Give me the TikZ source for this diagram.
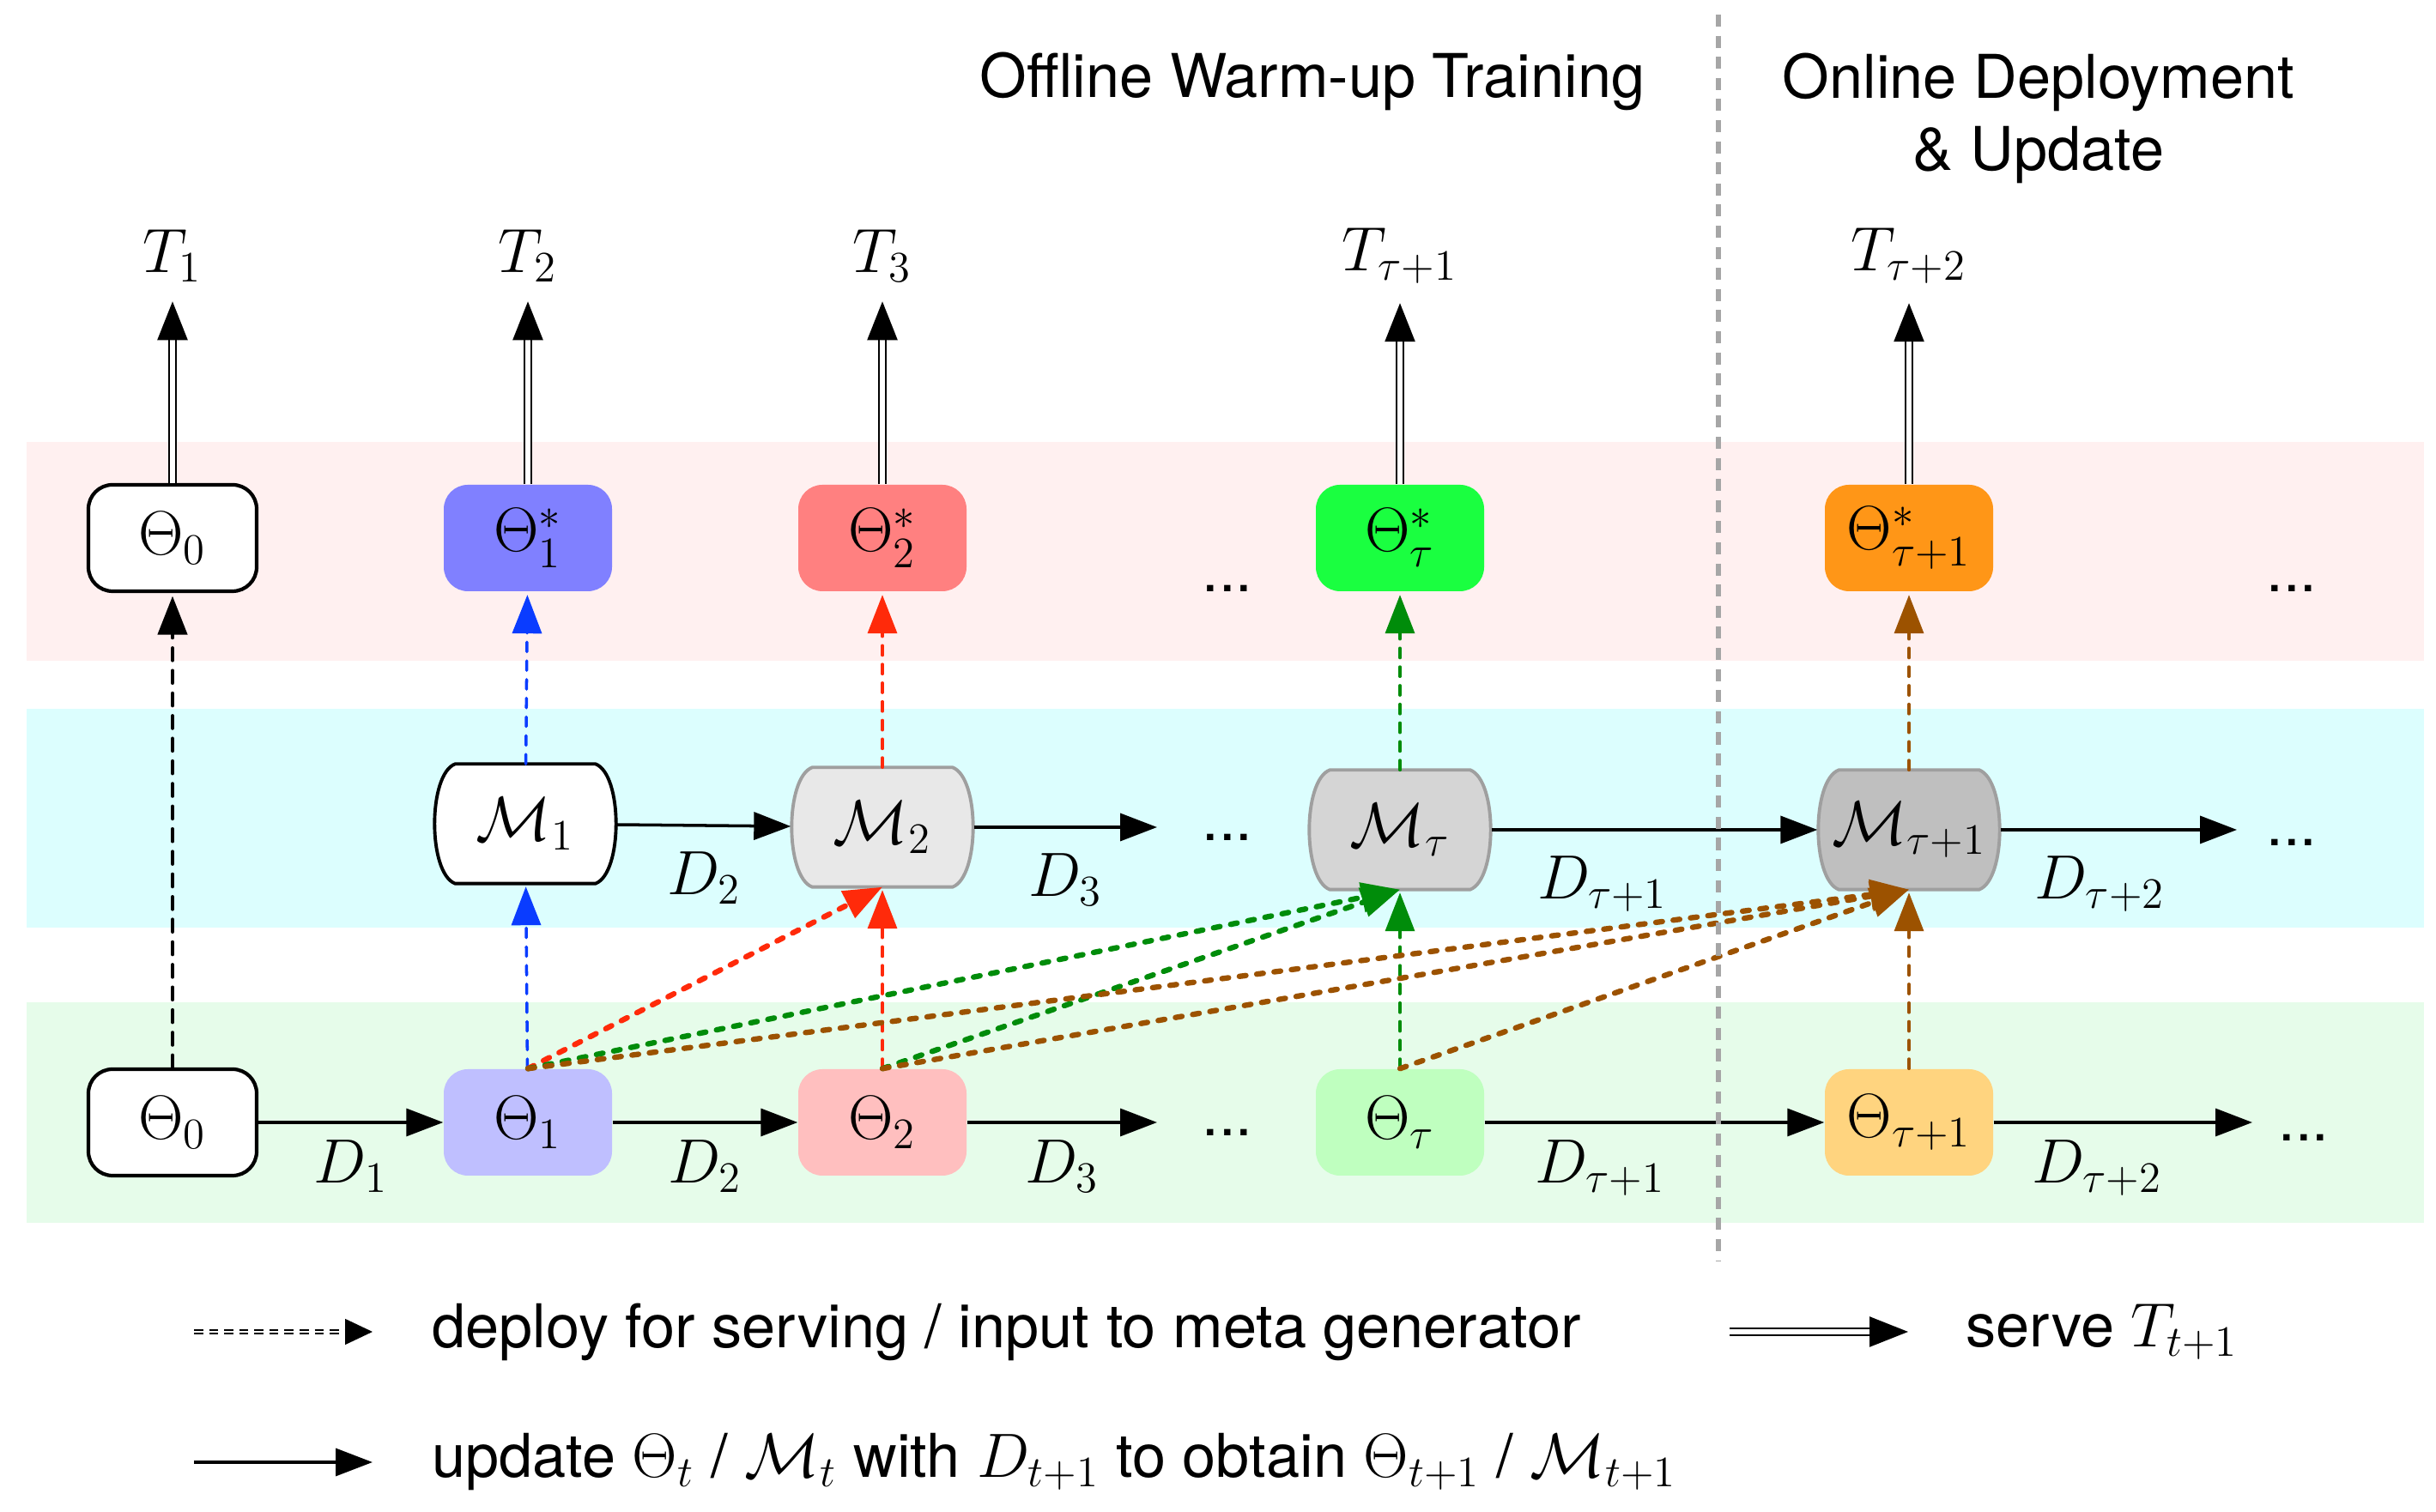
\documentclass[tikz,border=0pt]{standalone}
\usepackage[no-math]{fontspec}
\setmainfont{TeX Gyre Heros}
\usepackage{amsmath,amssymb}
\usetikzlibrary{arrows.meta,positioning,calc}
\pgfdeclarelayer{bands}
\pgfdeclarelayer{outline}
\pgfsetlayers{bands,outline,main}
\definecolor{bandpink}{HTML}{FFF0F0}
\definecolor{bandcyan}{HTML}{DCFEFE}
\definecolor{bandgreen}{HTML}{E6FCEA}
\definecolor{blueS}{HTML}{8080FF}
\definecolor{blueL}{HTML}{BFBFFF}
\definecolor{redS}{HTML}{FF8080}
\definecolor{redL}{HTML}{FFBFBF}
\definecolor{greenS}{HTML}{1AFF40}
\definecolor{greenL}{HTML}{BFFFBF}
\definecolor{orangeS}{HTML}{FF9617}
\definecolor{orangeL}{HTML}{FFD47F}
\definecolor{lineblue}{HTML}{0A3CFF}
\definecolor{linered}{HTML}{FF2A0A}
\definecolor{linegreen}{HTML}{008C0A}
\definecolor{linebrown}{HTML}{9C5200}
\definecolor{divgray}{HTML}{A6A6A6}
\tikzset{
  param/.style={rounded corners=8pt,minimum width=1.96cm,minimum height=1.24cm,inner sep=0pt,
                font=\fontsize{22.5}{27}\selectfont},
  meta/.style={minimum width=2.12cm,minimum height=1.38cm,inner sep=0pt,
               font=\fontsize{22.5}{27}\selectfont},
  upd/.style={-{Triangle[length=4.3mm,width=3.2mm]},line width=1pt},
  serve/.style={double=white,double distance=1.5pt,line width=0.7pt,-{Triangle[length=4.5mm,width=3.5mm]}},
  feed/.style={line cap=round,dash pattern=on 3.2pt off 3pt,line width=1pt,
               -{Triangle[length=4.5mm,width=3.4mm]},shorten >=1pt},
  cross/.style={line cap=round,dash pattern=on 2.2pt off 3.6pt,line width=1.8pt,
                -{Triangle[length=4.5mm,width=3.4mm]}},
}
% barrel outline behind a meta generator node: name, fill, border
\newcommand\metabarrel[3]{%
  \begin{pgfonlayer}{outline}
    \draw[#3,fill=#2,line width=1.1pt]
      ($(#1.north west)+(0.25,0)$) -- ($(#1.north east)+(-0.25,0)$)
      .. controls +(0.32,-0.12) and +(0.32,0.12) .. ($(#1.south east)+(-0.25,0)$)
      -- ($(#1.south west)+(0.25,0)$)
      .. controls +(-0.32,0.12) and +(-0.32,-0.12) .. cycle;
  \end{pgfonlayer}}

\begin{document}
\begin{tikzpicture}[font=\fontsize{20}{24}\selectfont]
  \useasboundingbox (0,0) rectangle (28.38,17.62);
  % Background bands
  \begin{pgfonlayer}{bands}
    \fill[bandpink]  (0.31,9.92) rectangle (28.24,12.47);
    \fill[bandcyan]  (0.31,6.81) rectangle (28.24,9.36);
    \fill[bandgreen] (0.31,3.37) rectangle (28.24,5.94);
  \end{pgfonlayer}
  % Titles
  \node (offl) at (15.29,16.67) {Offline Warm-up Training};
  \node[align=center] (onl) at (23.75,16.24) {Online Deployment\\\& Update};
  % Served tasks
  \node (t1) at (2.01,14.64) {$T_1$};
  \node (t2) at (6.15,14.64) {$T_2$};
  \node (t3) at (10.28,14.64) {$T_3$};
  \node (tt) at (16.31,14.64) {$T_{\tau+1}$};
  \node (tt1) at (22.24,14.64) {$T_{\tau+2}$};
  % Deployed parameters
  \node[param,draw=black,line width=1.2pt,fill=white] (top0) at (2.01,11.35) {$\Theta_0$};
  \node[param,fill=blueS]   (top1)  at (6.15,11.35)  {$\Theta^*_1$};
  \node[param,fill=redS]    (top2)  at (10.28,11.35) {$\Theta^*_2$};
  \node[param,fill=greenS]  (topt)  at (16.31,11.35) {$\Theta^*_\tau$};
  \node[param,fill=orangeS] (topt1) at (22.24,11.35) {$\Theta^*_{\tau+1}$};
  \node (dtop1) at (14.30,10.76) {...};
  \node (dtop2) at (26.70,10.76) {...};
  % Meta generators
  \node[meta] (m1)  at (6.12,8.02)  {$\mathcal{M}_1$};
  \node[meta] (m2)  at (10.28,7.98) {$\mathcal{M}_2$};
  \node[meta] (mt)  at (16.31,7.95) {$\mathcal{M}_\tau$};
  \node[meta] (mt1) at (22.24,7.95) {$\mathcal{M}_{\tau+1}$};
  \metabarrel{m1}{white}{black}
  \metabarrel{m2}{gray!18}{gray!75}
  \metabarrel{mt}{gray!33}{gray!75}
  \metabarrel{mt1}{gray!50}{gray!75}
  \node (dmid1) at (14.30,7.86) {...};
  \node (dmid2) at (26.70,7.80) {...};
  \coordinate (em1) at (13.48,7.98);
  \coordinate (em2) at (26.06,7.95);
  % Base parameters
  \node[param,draw=black,line width=1.2pt,fill=white] (th0) at (2.01,4.54) {$\Theta_0$};
  \node[param,fill=blueL]   (th1)  at (6.15,4.54)  {$\Theta_1$};
  \node[param,fill=redL]    (th2)  at (10.28,4.54) {$\Theta_2$};
  \node[param,fill=greenL]  (tht)  at (16.31,4.54) {$\Theta_\tau$};
  \node[param,fill=orangeL] (tht1) at (22.24,4.54) {$\Theta_{\tau+1}$};
  \node (dbot1) at (14.30,4.42) {...};
  \node (dbot2) at (26.84,4.36) {...};
  \coordinate (eb1) at (13.48,4.54);
  \coordinate (eb2) at (26.24,4.54);

  % Serving
  \foreach \a/\b in {top0/t1,top1/t2,top2/t3,topt/tt,topt1/tt1}
    \draw[serve,shorten >=3pt] (\a.north) -- (\b.south);
  % Deploy / feed into generators
  \draw[feed,black,line width=1.3pt,dash pattern=on 4pt off 3.5pt] (th0) -- (top0);
  \draw[feed,lineblue]  (th1) -- (m1);
  \draw[feed,lineblue]  (m1) -- (top1);
  \draw[feed,linered]   (th2) -- (m2);
  \draw[feed,linered]   (m2) -- (top2);
  \draw[feed,linegreen] (tht) -- (mt);
  \draw[feed,linegreen] (mt) -- (topt);
  \draw[feed,linebrown] (tht1) -- (mt1);
  \draw[feed,linebrown] (mt1) -- (topt1);
  \draw[cross,linered]   (th1.north) -- (m2.south);
  \draw[cross,linegreen] (th1.north) -- (mt.south);
  \draw[cross,linegreen] (th2.north) -- (mt.south);
  \draw[cross,linebrown] (th1.north) -- (mt1.south);
  \draw[cross,linebrown] (th2.north) -- (mt1.south);
  \draw[cross,linebrown] (tht.north) -- (mt1.south);
  % Updates
  \draw[upd] (m1) -- (m2) node[midway,below=5pt] {$D_2$};
  \draw[upd] (m2) -- (em1) node[midway,below=5pt] {$D_3$};
  \draw[upd] (mt) -- (mt1) node[pos=0.34,below=5pt] {$D_{\tau+1}$};
  \draw[upd] (mt1) -- (em2) node[pos=0.42,below=5pt] {$D_{\tau+2}$};
  \draw[upd] (th0) -- (th1) node[midway,below=2pt] {$D_1$};
  \draw[upd] (th1) -- (th2) node[midway,below=2pt] {$D_2$};
  \draw[upd] (th2) -- (eb1) node[midway,below=2pt] {$D_3$};
  \draw[upd] (tht) -- (tht1) node[pos=0.34,below=2pt] {$D_{\tau+1}$};
  \draw[upd] (tht1) -- (eb2) node[pos=0.4,below=2pt] {$D_{\tau+2}$};
  % Offline / online split
  \draw[divgray,line width=1.6pt,dash pattern=on 4pt off 3pt] (20.02,17.45) -- (20.02,2.93);

  % Legend
  \coordinate (lga) at (2.26,2.10);
  \coordinate (lgb) at (4.34,2.10);
  \coordinate (lsa) at (20.15,2.10);
  \coordinate (lsb) at (22.23,2.10);
  \coordinate (lua) at (2.26,0.58);
  \coordinate (lub) at (4.34,0.58);
  \draw[densely dashed,double=white,double distance=0.8pt,line width=0.4pt,
        -{Triangle[length=3.2mm,width=3mm]}] (lga) -- (lgb);
  \node[anchor=west] (lgt1) at (4.91,2.10) {deploy for serving / input to meta generator};
  \draw[serve] (lsa) -- (lsb);
  \node[anchor=west] (lgt2) at (22.78,2.10) {serve $T_{t+1}$};
  \draw[upd] (lua) -- (lub);
  \node[anchor=west] (lgt3) at (4.91,0.58) {update $\Theta_t$ / $\mathcal{M}_t$ with $D_{t+1}$ to obtain $\Theta_{t+1}$ / $\mathcal{M}_{t+1}$};
\end{tikzpicture}
\end{document}
